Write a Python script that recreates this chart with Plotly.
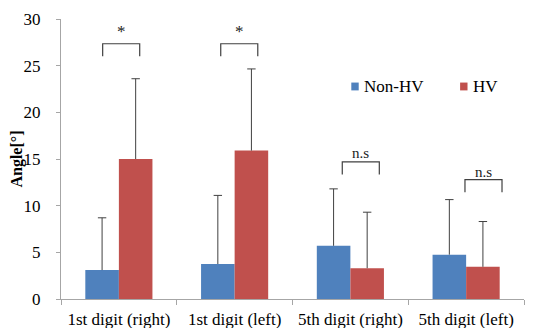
import plotly.graph_objects as go

categories = ["1st digit (right)", "1st digit (left)", "5th digit (right)", "5th digit (left)"]
non_hv_mean = [3.1, 3.75, 5.7, 4.75]
non_hv_sd = [5.6, 7.35, 6.1, 5.9]
hv_mean = [15.0, 15.9, 3.3, 3.45]
hv_sd = [8.6, 8.75, 6.0, 4.85]
sig_labels = ["*", "*", "n.s", "n.s"]
y_ticks = [0, 5, 10, 15, 20, 25, 30]

FONT = "Liberation Serif"
BLUE = "#4f81bd"
RED = "#c0504d"
AX = "#a6a6a6"
ERR = "#404040"

fig = go.Figure()
for name, mean, sd, col, grp in [("Non-HV", non_hv_mean, non_hv_sd, BLUE, "a"),
                                 ("HV", hv_mean, hv_sd, RED, "b")]:
    fig.add_trace(go.Bar(
        name=name, x=categories, y=mean, offsetgroup=grp,
        marker=dict(color=col, line=dict(width=0)),
        error_y=dict(type="data", array=sd, arrayminus=[0] * len(sd), symmetric=False,
                     color=ERR, thickness=1, width=0),
    ))
    # caps on top of error bars
    fig.add_trace(go.Scatter(
        x=categories, y=[m + s for m, s in zip(mean, sd)], offsetgroup=grp,
        mode="markers",
        marker=dict(symbol="line-ew-open", size=6, color=ERR, line=dict(color=ERR, width=1)),
        hoverinfo="skip", showlegend=False,
    ))

# significance brackets
br_x0 = [-0.14, -0.12, -0.07, -0.01]
br_x1 = [0.18, 0.20, 0.25, 0.31]
br_top = [27.35, 27.35, 14.7, 12.8]
br_drop = 1.35
lab_y = [28.65, 28.65, 15.6, 13.6]
for i, lab in enumerate(sig_labels):
    x0 = i + br_x0[i]
    x1 = i + br_x1[i]
    fig.add_shape(type="path",
                  path=f"M {x0} {br_top[i]-br_drop} L {x0} {br_top[i]} L {x1} {br_top[i]} L {x1} {br_top[i]-br_drop}",
                  xref="x", yref="y", line=dict(color=ERR, width=1.2))
    fig.add_annotation(x=(x0 + x1) / 2, y=lab_y[i], xref="x", yref="y", text=lab,
                       showarrow=False, font=dict(family=FONT, size=15 if lab != "*" else 17, color="#222222"))

# manual legend
legend_items = [("Non-HV", BLUE, 0.627), ("HV", RED, 0.862)]
for name, col, lx in legend_items:
    fig.add_shape(type="rect", xref="paper", yref="paper",
                  x0=lx, x1=lx + 0.016, y0=0.745, y1=0.773, fillcolor=col, line=dict(width=0))
    fig.add_annotation(xref="paper", yref="paper", x=lx + 0.024, y=0.759, xanchor="left", yanchor="middle",
                       text=name, showarrow=False, font=dict(family=FONT, size=17, color="#000000"))

# page body has an 8px margin: figure is sized/offset to compensate
fig.update_layout(
    width=531, height=320,
    margin=dict(l=53, r=15, t=11, b=29),
    plot_bgcolor="white", paper_bgcolor="white",
    barmode="group", bargap=0.42, bargroupgap=0,
    scattermode="group", scattergap=0.42,
    showlegend=False,
    font=dict(family=FONT, size=17, color="#000000"),
)
fig.update_xaxes(
    showline=True, linecolor=AX, linewidth=1,
    ticks="outside", tickson="boundaries", ticklen=5, tickcolor=AX,
    tickfont=dict(family=FONT, size=17), ticklabelstandoff=5,
    showgrid=False, automargin=False,
)
fig.update_yaxes(
    range=[0, 30], tickvals=y_ticks, showline=True, linecolor=AX, linewidth=1,
    ticks="outside", ticklen=4, tickcolor=AX, showgrid=False, zeroline=False,
    tickfont=dict(family=FONT, size=17), ticklabelstandoff=12, automargin=False,
    title=dict(text="<b>Angle[°]</b>", font=dict(family=FONT, size=16), standoff=3),
)

fig.write_html("out.html")
